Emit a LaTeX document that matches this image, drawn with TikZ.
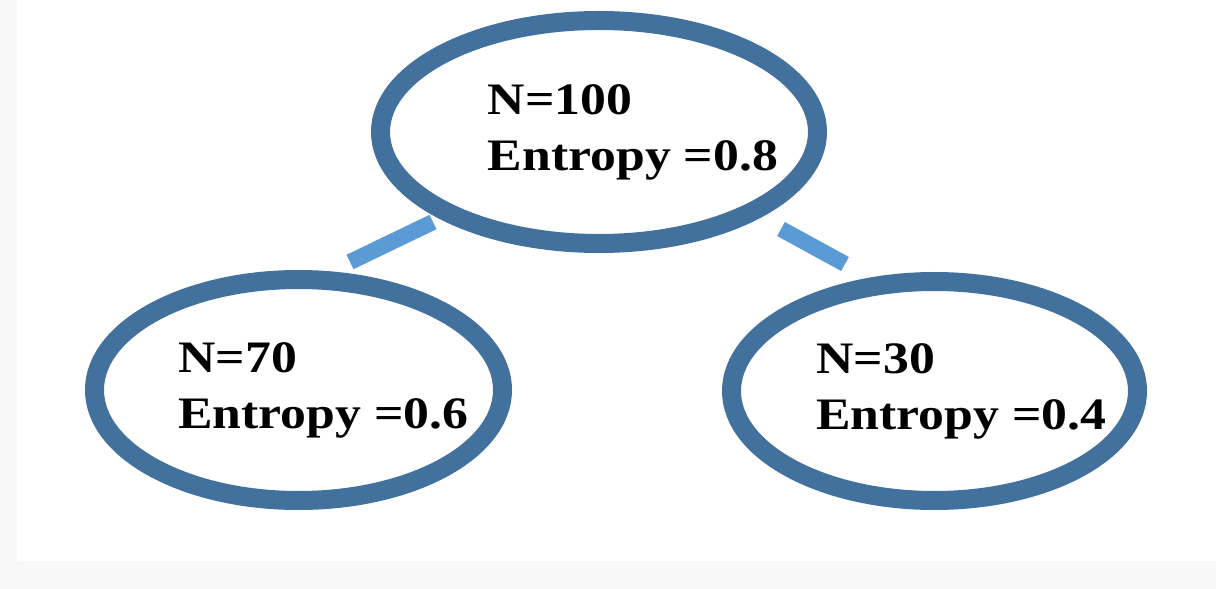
\documentclass[tikz,border=0pt]{standalone}
\usepackage{fontspec}
\setmainfont{Liberation Serif}[BoldFeatures={FakeStretch=1.15}]
\usepackage{tikz}
\usetikzlibrary{shapes.geometric}
\definecolor{ringblue}{HTML}{41719C}
\definecolor{barblue}{HTML}{5B9BD5}
\definecolor{pagegray}{HTML}{F8F8F8}

\begin{document}
\begin{tikzpicture}[
  x=1bp, y=-1bp,
  ring/.style={ellipse,draw=ringblue,line width=19bp,inner sep=0pt},
  txt/.style={align=left,inner sep=0pt,font=\bfseries\fontsize{45bp}{56bp}\selectfont},
  bar/.style={draw=barblue,line width=16bp}
]
% page
\fill[pagegray] (0,0) rectangle (1216,589);
\fill[white] (17,0) rectangle (1216,561);
\useasboundingbox (0,0) rectangle (1216,589);
% nodes
\node[ring,minimum width=437bp,minimum height=223bp] (root) at (599,132) {};
\node[ring,minimum width=408bp,minimum height=221bp] (n70) at (298.5,390) {};
\node[ring,minimum width=406bp,minimum height=219bp] (n30) at (934.5,391) {};
\node[txt,xshift=34bp] (root-t) at (root) {N=100\\Entropy =0.8};
\node[txt,xshift=25bp] (n70-t) at (n70) {N=70\\Entropy =0.6};
\node[txt,xshift=27bp] (n30-t) at (n30) {N=30\\Entropy =0.4};
% branches
\coordinate (b1s) at (433,222);
\coordinate (b1e) at (350,262);
\coordinate (b2s) at (781,229);
\coordinate (b2e) at (845,264);
\draw[bar] (b1s) -- (b1e);
\draw[bar] (b2s) -- (b2e);
\end{tikzpicture}
\end{document}
